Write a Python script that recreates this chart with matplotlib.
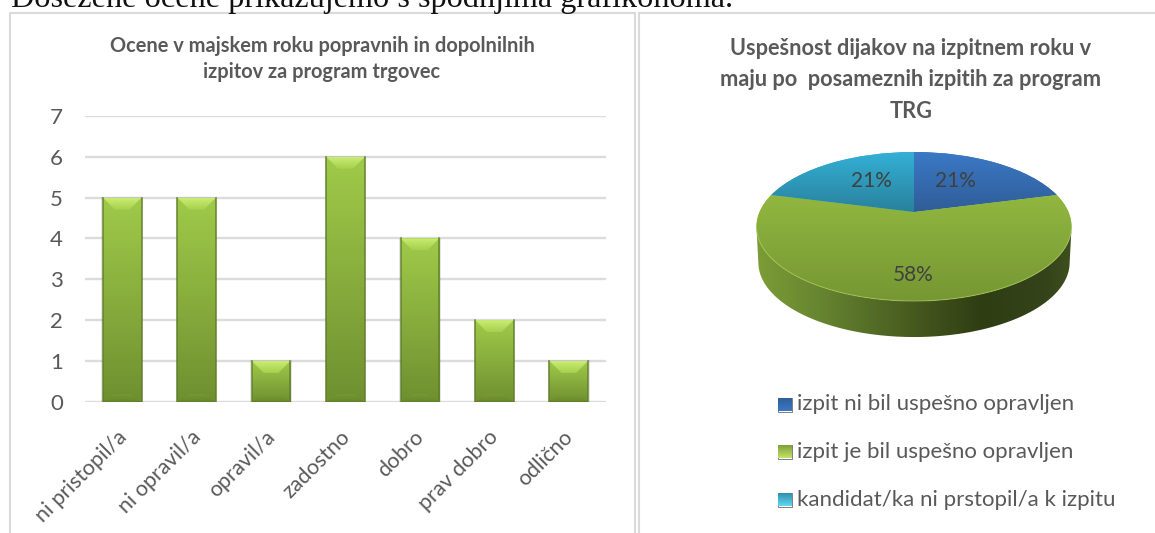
import numpy as np
import matplotlib
matplotlib.use("Agg")
import matplotlib.pyplot as plt
from matplotlib.colors import LinearSegmentedColormap as LSC
from matplotlib.patches import Polygon, Rectangle
from matplotlib.transforms import Transform, ScaledTranslation

plt.rcParams['font.family'] = ['Lato', 'DejaVu Sans']

# ------ data
grade_labels = ['ni pristopil/a', 'ni opravil/a', 'opravil/a', 'zadostno', 'dobro', 'prav dobro', 'odlično']
grade_counts = [5, 5, 1, 6, 4, 2, 1]
y_ticks = [0, 1, 2, 3, 4, 5, 6, 7]
pie_labels = ['izpit ni bil uspešno opravljen', 'izpit je bil uspešno opravljen', 'kandidat/ka ni prstopil/a k izpitu']
pie_values = [21, 58, 21]
pie_texts = ['21%', '58%', '21%']
title_left = 'Ocene v majskem roku popravnih in dopolnilnih\nizpitov za program trgovec'
title_right = 'Uspešnost dijakov na izpitnem roku v\nmaju po  posameznih izpitih za program\nTRG'
page_text = 'Dosežene ocene prikazujemo s spodnjima grafikonoma.'

W, H = 1155, 533
TXT = '#595959'
fig = plt.figure(figsize=(W / 100, H / 100), dpi=100, facecolor='white')

def rect(x0, y0, x1, y1):
    return [x0 / W, 1 - y1 / H, (x1 - x0) / W, (y1 - y0) / H]

def vgrad(c):
    return LSC.from_list('g', c)

# ------ page background: pixel axes
bg = fig.add_axes([0, 0, 1, 1], zorder=0)
bg.set_xlim(0, W); bg.set_ylim(H, 0); bg.axis('off')
bg.plot([10, 10, 635, 635], [H, 12.5, 12.5, H], color='#dadada', lw=1.5, solid_joinstyle='miter')
bg.plot([639, 639, W], [H, 12.5, 12.5], color='#dadada', lw=1.5, solid_joinstyle='miter')
bg.text(11, 7, page_text, family='Liberation Serif', fontsize=23.2, color='#111111', va='baseline', ha='left')
bg.text(322, 59, title_left, fontsize=14.4, fontweight='bold', color=TXT, ha='center', va='center', linespacing=1.42)
bg.text(911, 80, title_right, fontsize=15.7, fontweight='bold', color=TXT, ha='center', va='center', linespacing=1.62)

# ------ bar chart
ax = fig.add_axes(rect(85, 116, 606, 401.7), zorder=1)
ax.set_xlim(-0.5, len(grade_counts) - 0.5)
ax.set_ylim(0, 7)
ax.patch.set_alpha(0)
for s in ax.spines.values():
    s.set_visible(False)
ax.set_axisbelow(True)
ax.grid(axis='y', color='#dcdcdc', lw=1.7)
ax.set_yticks(y_ticks)
ax.set_xticks(range(len(grade_labels)))
ax.set_xticklabels(grade_labels, rotation=45, ha='right', rotation_mode='anchor', fontsize=15.5, color=TXT)
ax.tick_params(axis='both', length=0, labelcolor=TXT)
ax.tick_params(axis='y', labelsize=16, pad=16)
ax.tick_params(axis='x', pad=18)
shift = ScaledTranslation(-6 / 100, 0, fig.dpi_scale_trans)
for lab in ax.get_xticklabels():
    lab.set_transform(lab.get_transform() + shift)

face = LSC.from_list('f', [(0, '#6f9030'), (0.5, '#88ad3d'), (1, '#9fca49')])
topb = vgrad(['#a6d04e', '#caec72'])
botb = vgrad(['#5f7e28', '#7f9f38'])
gy = np.linspace(0, 1, 64).reshape(-1, 1)
BW = 0.52
px_x = 7 / 521
px_y = 7 / 285.7
for i, v in enumerate(grade_counts):
    x0, x1 = i - BW / 2, i + BW / 2
    ax.add_patch(Rectangle((x0 - px_x * 1.5, 0), BW + px_x * 3, v + px_y * 0.5, fc='#000000', alpha=0.10, ec='none', zorder=2))
    bar = ax.bar(i, v, BW, color='#8fb53f', zorder=3, lw=0)[0]
    im = ax.imshow(gy, cmap=face, extent=(x0, x1, 0, v), origin='lower', aspect='auto', zorder=3.1)
    im.set_clip_path(bar)
    ins = 12 * px_x
    tb = 12 * px_y
    poly = Polygon([(x0, v), (x1, v), (x1 - ins, v - tb), (x0 + ins, v - tb)], closed=True, fc='none', ec='none')
    ax.add_patch(poly)
    im2 = ax.imshow(gy, cmap=topb, extent=(x0, x1, v - tb, v), origin='lower', aspect='auto', zorder=3.2)
    im2.set_clip_path(poly)
    bb = 8 * px_y
    poly2 = Polygon([(x0, 0), (x1, 0), (x1 - ins, bb), (x0 + ins, bb)], closed=True, fc='none', ec='none')
    ax.add_patch(poly2)
    im3 = ax.imshow(gy, cmap=botb, extent=(x0, x1, 0, bb), origin='lower', aspect='auto', zorder=3.2, alpha=0.5)
    im3.set_clip_path(poly2)
    ax.plot([x0, x0, x1, x1], [v, 0, 0, v], color='#5f7c2a', lw=1.1, zorder=3.4, alpha=0.9, solid_joinstyle='miter')
ax.set_xlim(-0.5, len(grade_counts) - 0.5)
ax.set_ylim(0, 7)

# ------ pie chart with a perspective projection of the wedges
class Persp(Transform):
    input_dims = output_dims = 2
    is_separable = False
    has_inverse = False
    def __init__(self, k, sx, sy):
        super().__init__()
        self.k, self.sx, self.sy = k, sx, sy
    def transform_non_affine(self, xy):
        xy = np.asarray(xy)
        d = 1 + self.k * xy[:, 1]
        return np.column_stack([self.sx * xy[:, 0] / d, self.sy * xy[:, 1] / d])

K, SX, SY = 0.1946, 154.5, 71.7
CX, CY = 914, 212
pax = fig.add_axes([0, 0, 1, 1], zorder=2)
pax.patch.set_alpha(0)
wedges, _ = pax.pie(pie_values, startangle=90, counterclock=False, radius=1.0, wedgeprops=dict(lw=0))
pax.set_aspect('auto')
pax.set_xlim(-CX, W - CX)
pax.set_ylim(-(H - CY), CY)
pax.axis('off')
proj = Persp(K, SX, SY)
tr = proj + pax.transData

th = np.linspace(0, 2 * np.pi, 361)
disc = proj.transform_non_affine(np.column_stack([np.cos(th), np.sin(th)]))
DEPTH = 36
mid = (disc[:, 1].max() + disc[:, 1].min()) / 2
lower = disc[disc[:, 1] < mid]
lower = lower[np.argsort(lower[:, 0])]
bottom = lower.copy()
bottom[:, 0] *= 0.988
bottom[:, 1] -= DEPTH
side = Polygon(np.vstack([lower, bottom[::-1]]), closed=True, fc='none', ec='none')
pax.add_patch(side)
side_cm = LSC.from_list('s', [(0, '#7c9c36'), (0.2, '#668530'), (0.5, '#46591f'), (0.72, '#2f3d13'), (0.92, '#34431a'), (1, '#3e4f1e')])
gx = np.linspace(0, 1, 128).reshape(1, -1)
sim = pax.imshow(gx, cmap=side_cm, extent=(disc[:, 0].min(), disc[:, 0].max(), mid - DEPTH - 80, mid),
                 aspect='auto', origin='lower', zorder=2)
sim.set_clip_path(side)

wedge_cols = [['#2f5c96', '#3b79c6'], ['#769733', '#9cc445'], ['#28809a', '#34b0d6']]
ymin, ymax = disc[:, 1].min(), disc[:, 1].max()
for w, c, lo in zip(wedges, wedge_cols, [-2, ymin, -2]):
    w.set_transform(tr)
    w.set_facecolor(c[1])
    w.set_zorder(3)
    im = pax.imshow(gy, cmap=vgrad(c), extent=(disc[:, 0].min(), disc[:, 0].max(), lo, ymax),
                    origin='lower', aspect='auto', zorder=3.1)
    im.set_clip_path(w)
pax.plot(lower[:, 0], lower[:, 1], color='#a9cd5c', lw=0.8, alpha=0.6, zorder=3.5)
pax.set_xlim(-CX, W - CX)
pax.set_ylim(-(H - CY), CY)
pax.set_aspect('auto')

for (tx, ty), t in zip([(955, 181), (871, 181), (913, 275)], [pie_texts[0], pie_texts[2], pie_texts[1]]):
    pax.text(tx - CX, CY - ty, t, fontsize=15, color='#404040', ha='center', va='center', zorder=5)

# ------ legend
lg = fig.add_axes([0, 0, 1, 1], zorder=3)
lg.set_xlim(0, W); lg.set_ylim(H, 0); lg.axis('off')
leg_cols = [('#2f5c96', '#3b79c6'), ('#7a9a34', '#c3e26a'), ('#2b8aa6', '#5fd8f0')]
for lab, c, y in zip(pie_labels, leg_cols, [404.5, 451.5, 499.5]):
    p = Rectangle((778, y - 7), 13.5, 14, fc='none', ec='#6a6a6a', lw=0.6)
    lg.add_patch(p)
    im = lg.imshow(gy, cmap=vgrad([c[0], c[1]]), extent=(778, 791.5, y + 7, y - 7), origin='upper', aspect='auto', zorder=2)
    im.set_clip_path(p)
    lg.text(797, y, lab, fontsize=16, color=TXT, ha='left', va='center')
lg.set_xlim(0, W); lg.set_ylim(H, 0)

fig.savefig('out.png', dpi=100)
